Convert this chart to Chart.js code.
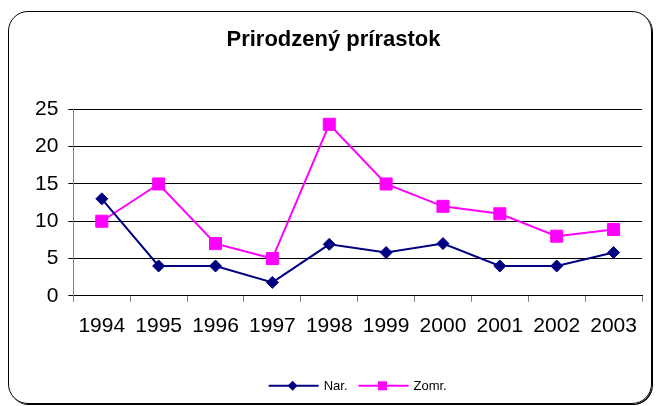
<!DOCTYPE html>
<html>
<head>
<meta charset="utf-8">
<script src="https://cdn.jsdelivr.net/npm/chart.js@4"></script>
<style>
  html, body { margin: 0; padding: 0; background: #fff; }
  #wrap { position: relative; width: 656px; height: 406px; }
  #frame {
    position: absolute; left: 8px; top: 11px; width: 642px; height: 391px;
    border: 1px solid #000; border-radius: 20px; box-shadow: 1px 1px 0 #000;
    pointer-events: none;
  }
</style>
</head>
<body>
<div id="wrap">
  <canvas id="chart" width="656" height="406"></canvas>
  <div id="frame"></div>
</div>
<script>
var years = ["1994", "1995", "1996", "1997", "1998", "1999", "2000", "2001", "2002", "2003"];
var narodeni = [13, 4, 4, 1.8, 6.9, 5.8, 7, 4, 4, 5.8];
var zomreli = [10, 15, 7, 5, 23, 15, 12, 11, 8, 8.9];
var yTicks = [0, 5, 10, 15, 20, 25];

var font = "'Liberation Sans', Arial, sans-serif";

// legenda pod grafom: ciara so znackou + text
var legendPlugin = {
  id: "excelLegend",
  afterDraw: function (chart) {
    var ctx = chart.ctx;
    var area = chart.chartArea;
    var y = area.bottom + 90;
    ctx.save();
    ctx.font = "13px " + font;
    var items = chart.data.datasets.map(function (ds) {
      return { ds: ds, w: 50 + 5 + ctx.measureText(ds.label).width };
    });
    var gap = 11;
    var total = items.reduce(function (s, it) { return s + it.w; }, 0) + gap * (items.length - 1);
    var x = (area.left + area.right) / 2 - total / 2;
    items.forEach(function (it) {
      var ds = it.ds;
      ctx.strokeStyle = ds.borderColor;
      ctx.lineWidth = 2;
      ctx.beginPath();
      ctx.moveTo(x, y);
      ctx.lineTo(x + 50, y);
      ctx.stroke();
      var cx = x + 24;
      ctx.fillStyle = ds.pointBackgroundColor;
      ctx.beginPath();
      if (ds.pointStyle === "rect") {
        ctx.rect(cx - 4.5, y - 4.5, 9, 9);
      } else {
        ctx.moveTo(cx, y - 5);
        ctx.lineTo(cx + 5, y);
        ctx.lineTo(cx, y + 5);
        ctx.lineTo(cx - 5, y);
        ctx.closePath();
      }
      ctx.fill();
      ctx.fillStyle = "#000";
      ctx.textBaseline = "middle";
      ctx.textAlign = "left";
      ctx.fillText(ds.label, x + 55, y + 1);
      x += it.w + gap;
    });
    ctx.restore();
  }
};

var ctx = document.getElementById("chart").getContext("2d");
var myChart = new Chart(ctx, {
  type: "line",
  data: {
    labels: years,
    datasets: [
      {
        label: "Nar.",
        data: narodeni,
        borderColor: "#000080",
        backgroundColor: "#000080",
        pointBackgroundColor: "#000080",
        pointBorderColor: "#000080",
        borderWidth: 2,
        pointStyle: "rectRot",
        pointRadius: 6,
        pointBorderWidth: 1,
        tension: 0,
      },
      {
        label: "Zomr.",
        data: zomreli,
        borderColor: "#FF00FF",
        backgroundColor: "#FF00FF",
        pointBackgroundColor: "#FF00FF",
        pointBorderColor: "#FF00FF",
        borderWidth: 2,
        pointStyle: "rect",
        pointRadius: 8.5,
        pointBorderWidth: 1,
        tension: 0,
      },
    ],
  },
  options: {
    responsive: false,
    animation: false,
    layout: {
      padding: { left: 25, right: 14, top: 0, bottom: 55 },
    },
    plugins: {
      legend: { display: false },
      tooltip: { enabled: false },
      title: {
        display: true,
        text: "Prirodzený prírastok",
        color: "#000",
        font: { family: font, size: 22, weight: "bold" },
        padding: { top: 27, bottom: 56 },
      },
    },
    scales: {
      x: {
        offset: true,
        grid: {
          offset: true,
          drawOnChartArea: false,
          drawTicks: true,
          tickLength: 6,
          color: "#808080",
        },
        border: { color: "#000", width: 1 },
        ticks: {
          color: "#000",
          padding: 12,
          maxRotation: 0,
          autoSkip: false,
          font: { family: font, size: 21 },
        },
      },
      y: {
        min: 0,
        max: 25,
        afterBuildTicks: function (scale) {
          scale.ticks = yTicks.map(function (v) { return { value: v }; });
        },
        grid: {
          color: "#000",
          lineWidth: 1,
          tickLength: 5,
        },
        border: { color: "#808080", width: 1 },
        ticks: {
          color: "#000",
          padding: 10,
          font: { family: font, size: 21 },
        },
      },
    },
  },
  plugins: [legendPlugin],
});
</script>
</body>
</html>
